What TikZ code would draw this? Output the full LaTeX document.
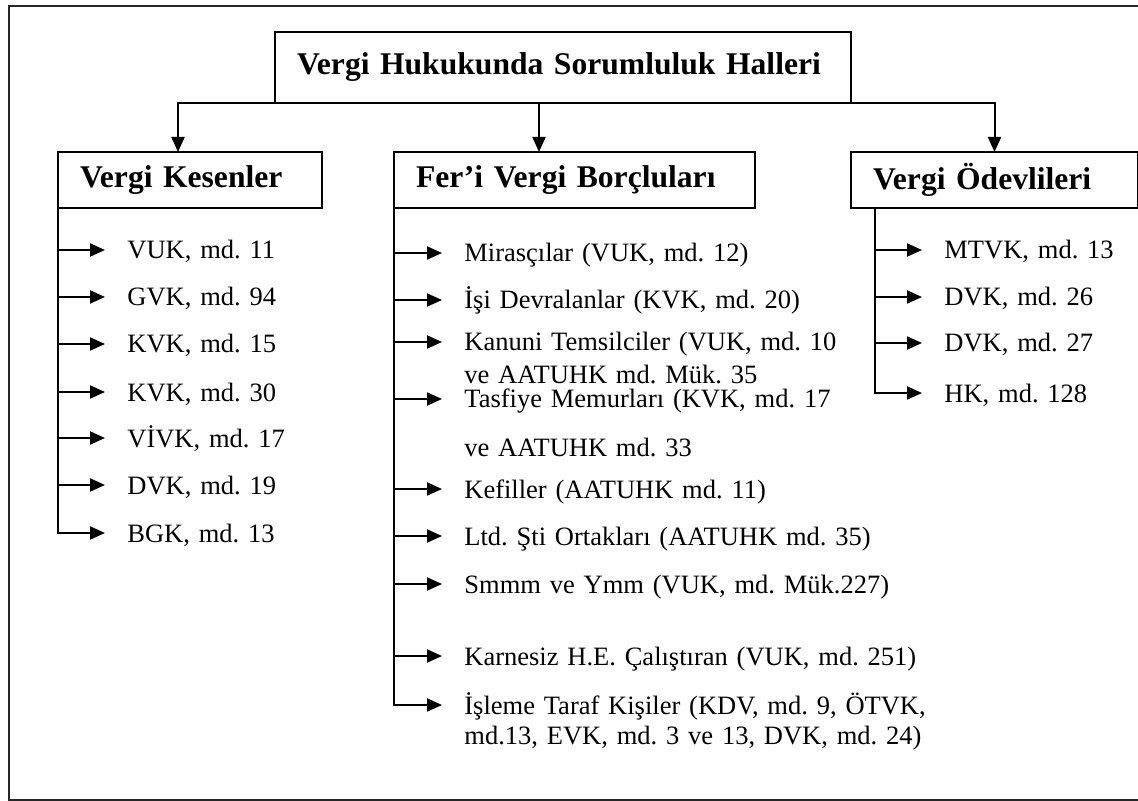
\documentclass[tikz,border=0pt]{standalone}
\usepackage{fontspec}
\setmainfont{Liberation Serif}
\usetikzlibrary{arrows.meta}
\frenchspacing
\begin{document}
\begin{tikzpicture}[
	x=0.5pt, y=-0.5pt,
	box/.style={ draw, line width=1pt, anchor=north west, outer sep=0pt, inner xsep=11pt, inner ysep=0pt, align=left, minimum height=28pt, font=\bfseries\fontsize{15.8pt}{19pt}\selectfont },
	item/.style={ anchor=west, inner xsep=11pt, inner ysep=0pt, text width=240pt, align=left, text height=9pt, text depth=0pt, font=\fontsize{13.25pt}{15pt}\selectfont },
	arr/.style={ line width=1pt, -{Triangle[length=7.5pt,width=6.5pt]} }
]
\path[use as bounding box, clip] (0,0) rectangle (1138,801);
\draw[line width=1.2pt, black!85] (9,6) rectangle (1160,800);

\node at (275,32) (title) [box, text width=266pt, minimum height=35.5pt] {Vergi Hukukunda Sorumluluk Halleri};
\node at (58,152) (kes) [box, text width=110pt] {Vergi Kesenler};
\node at (394,152) (fer) [box, text width=158.5pt] {Fer'i Vergi Borçluları};
\node at (851,152) (ode) [box, text width=121.5pt] {Vergi Ödevlileri};
\foreach \b/\d in {kes/-6pt,fer/-17.75pt,ode/0pt} \draw[arr] (title.south) -| ([xshift=\d]\b.north);

% Vergi Kesenler
\node at (105,250) (k1) [item] {VUK, md. 11};
\node at (105,297) (k2) [item] {GVK, md. 94};
\node at (105,344) (k3) [item] {KVK, md. 15};
\node at (105,392) (k4) [item] {KVK, md. 30};
\node at (105,438) (k5) [item] {VİVK, md. 17};
\node at (105,485) (k6) [item] {DVK, md. 19};
\node at (105,533) (k7) [item] {BGK, md. 13};
\foreach \i in {1,...,6} \draw[arr] (kes.south west |- k\i.west) -- (k\i.west);
\draw[arr] (kes.south west) |- (k7.west);

% Fer'i Vergi Borclulari
\node at (442,253) (f1) [item] {Mirasçılar (VUK, md. 12)};
\node at (442,300) (f2) [item] {İşi Devralanlar (KVK, md. 20)};
\node at (442,342) (f3) [item] {Kanuni Temsilciler (VUK, md. 10\\[1.5pt]ve AATUHK md. Mük. 35};
\node at (442,399) (f4) [item] {Tasfiye Memurları (KVK, md. 17\\[9.5pt]ve AATUHK md. 33};
\node at (442,489) (f5) [item] {Kefiller (AATUHK md. 11)};
\node at (442,536) (f6) [item] {Ltd. Şti Ortakları (AATUHK md. 35)};
\node at (442,584) (f7) [item] {Smmm ve Ymm (VUK, md. Mük.227)};
\node at (442,656) (f8) [item] {Karnesiz H.E. Çalıştıran (VUK, md. 251)};
\node at (442,705) (f9) [item] {İşleme Taraf Kişiler (KDV, md. 9, ÖTVK,\\md.13, EVK, md. 3 ve 13, DVK, md. 24)};
\foreach \i in {1,...,8} \draw[arr] (fer.south west |- f\i.west) -- (f\i.west);
\draw[arr] (fer.south west) |- (f9.west);

% Vergi Odevlileri
\coordinate (otrunk) at ([xshift=12pt]ode.south west);
\node at (922,250) (o1) [item] {MTVK, md. 13};
\node at (922,297) (o2) [item] {DVK, md. 26};
\node at (922,343) (o3) [item] {DVK, md. 27};
\node at (922,393) (o4) [item] {HK, md. 128};
\foreach \i in {1,...,3} \draw[arr] (otrunk |- o\i.west) -- (o\i.west);
\draw[arr] (otrunk) |- (o4.west);

\end{tikzpicture}
\end{document}
